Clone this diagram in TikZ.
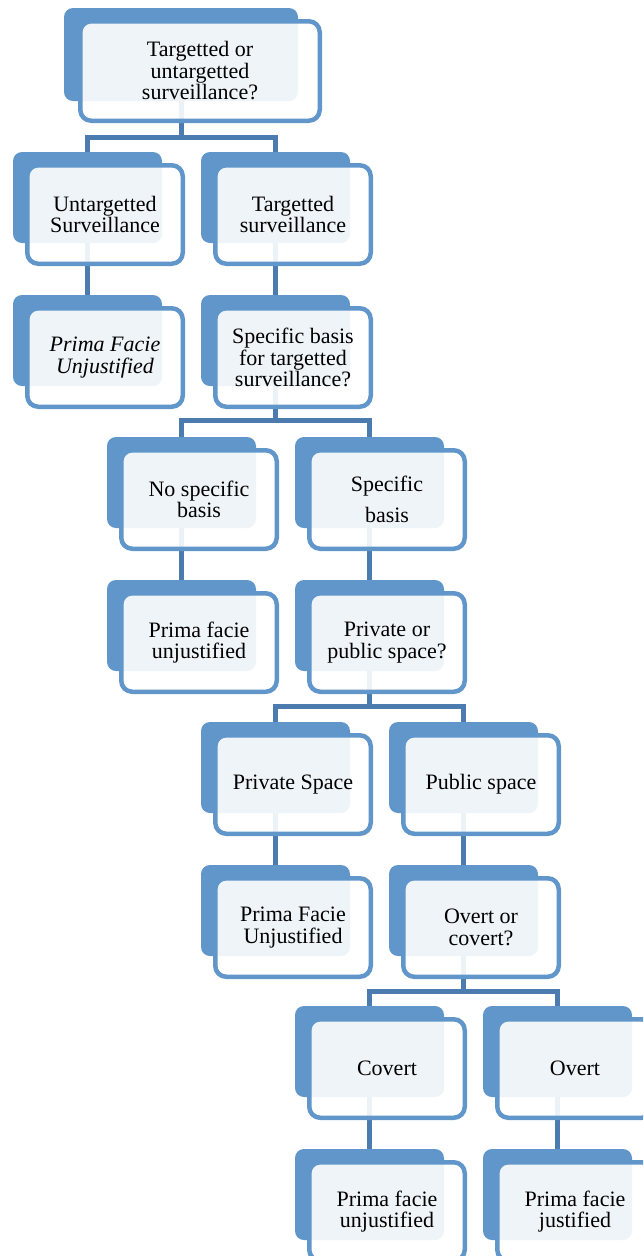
\documentclass[tikz,border=0pt]{standalone}
\usepackage{fontspec}
\setmainfont{Liberation Serif}
\usetikzlibrary{backgrounds}
\definecolor{backblue}{RGB}{97,150,202}
\definecolor{connblue}{RGB}{76,124,175}
\tikzset{
  backbox/.style={fill=backblue, draw=none, rounded corners=9pt, minimum width=149pt, minimum height=91pt, anchor=north west, inner sep=0pt, outer sep=0pt},
  frontbox/.style={fill=white, fill opacity=0.9, text opacity=1, draw=backblue, draw opacity=1, line width=4.5pt, rounded corners=11pt, minimum width=155.5pt, minimum height=98.5pt, anchor=north west, inner sep=0pt, align=center, font=\fontsize{22}{21.5}\selectfont},
  conn/.style={draw=connblue, line width=5pt}
}
\begin{document}
\begin{tikzpicture}[x=1pt,y=-1pt]
\useasboundingbox (0,0) rectangle (643,1256);
\clip (0,0) rectangle (643,1256);
% back boxes
\node[backbox, minimum width=234pt, minimum height=93pt] (Ab) at (64,8) {};
\node[backbox] (Bb) at (13,152) {};
\node[backbox] (Cb) at (201,152) {};
\node[backbox] (Db) at (13,295) {};
\node[backbox] (Eb) at (201,295) {};
\node[backbox] (Fb) at (107,437) {};
\node[backbox] (Gb) at (295,437) {};
\node[backbox] (Hb) at (107,580) {};
\node[backbox] (Ib) at (295,580) {};
\node[backbox] (Jb) at (201,722) {};
\node[backbox] (Kb) at (389,722) {};
\node[backbox] (Lb) at (201,865) {};
\node[backbox] (Mb) at (389,865) {};
\node[backbox] (Nb) at (295,1006) {};
\node[backbox] (Ob) at (483,1006) {};
\node[backbox] (Pb) at (295,1149) {};
\node[backbox] (Qb) at (483,1149) {};
% front boxes
\node[frontbox, minimum width=239.5pt, minimum height=99.5pt] (A) at (78,19) {Targetted or\\untargetted\\surveillance?};
\node[frontbox] (B) at (25,163) {Untargetted\\Surveillance};
\node[frontbox] (C) at (213,163) {Targetted\\surveillance};
\node[frontbox] (D) at (25,306) {\itshape Prima Facie\\\itshape Unjustified};
\node[frontbox] (E) at (213,306) {Specific basis\\for targetted\\surveillance?};
\node[frontbox] (F) at (119,448) {No specific\\basis};
\node[frontbox] (G) at (307,448) {Specific\\[10pt]basis};
\node[frontbox] (H) at (119,591) {Prima facie\\unjustified};
\node[frontbox] (I) at (307,591) {Private or\\public space?};
\node[frontbox] (J) at (213,733) {Private Space};
\node[frontbox] (K) at (401,733) {Public space};
\node[frontbox] (L) at (213,876) {Prima Facie\\Unjustified};
\node[frontbox] (M) at (401,876) {Overt or\\covert?};
\node[frontbox] (N) at (307,1017) {Covert};
\node[frontbox] (O) at (495,1017) {Overt};
\node[frontbox] (P) at (307,1160) {Prima facie\\unjustified};
\node[frontbox] (Q) at (495,1160) {Prima facie\\justified};
% connectors
\coordinate (bar1) at (0,137);
\coordinate (bar2) at (0,420);
\coordinate (bar3) at (0,706);
\coordinate (bar4) at (0,991);
\begin{scope}[on background layer]
\draw[conn] (Ab.south) -- (Ab.south |- bar1);
\draw[conn] (Bb.north) -- (Bb.north |- bar1) -- (Cb.north |- bar1) -- (Cb.north);
\draw[conn] (Bb.south) -- (Db.north);
\draw[conn] (Cb.south) -- (Eb.north);
\draw[conn] (Eb.south) -- (Eb.south |- bar2);
\draw[conn] (Fb.north) -- (Fb.north |- bar2) -- (Gb.north |- bar2) -- (Gb.north);
\draw[conn] (Fb.south) -- (Hb.north);
\draw[conn] (Gb.south) -- (Ib.north);
\draw[conn] (Ib.south) -- (Ib.south |- bar3);
\draw[conn] (Jb.north) -- (Jb.north |- bar3) -- (Kb.north |- bar3) -- (Kb.north);
\draw[conn] (Jb.south) -- (Lb.north);
\draw[conn] (Kb.south) -- (Mb.north);
\draw[conn] (Mb.south) -- (Mb.south |- bar4);
\draw[conn] (Nb.north) -- (Nb.north |- bar4) -- (Ob.north |- bar4) -- (Ob.north);
\draw[conn] (Nb.south) -- (Pb.north);
\draw[conn] (Ob.south) -- (Qb.north);
\end{scope}
\end{tikzpicture}
\end{document}
